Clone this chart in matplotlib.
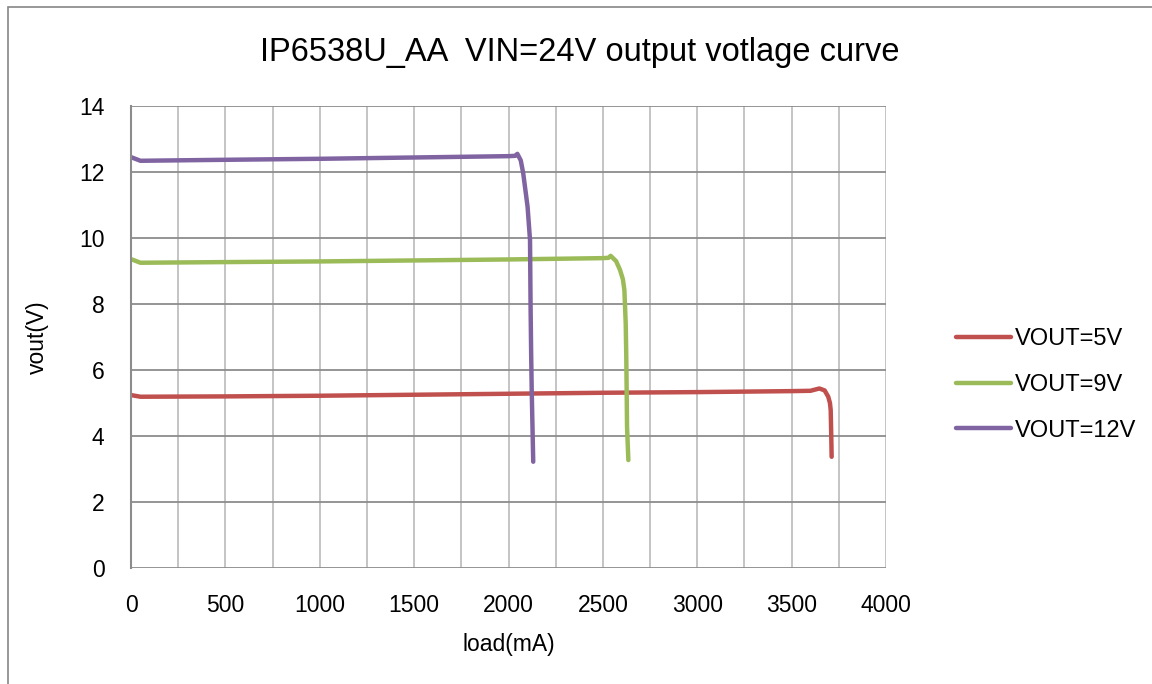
import matplotlib.pyplot as plt
from matplotlib.patches import Rectangle

plt.rcParams['font.family'] = ['Liberation Sans', 'DejaVu Sans']

# load (mA) / vout (V)
load_5v = [0, 50, 500, 1000, 1500, 2000, 2500, 3000, 3500, 3600, 3647, 3675, 3694, 3703, 3707, 3710, 3712]
vout_5v = [5.24, 5.19, 5.20, 5.22, 5.25, 5.28, 5.31, 5.33, 5.36, 5.37, 5.44, 5.38, 5.19, 5.00, 4.79, 4.00, 3.37]

load_9v = [0, 50, 500, 1000, 1500, 2000, 2500, 2530, 2541, 2570, 2591, 2606, 2614, 2621, 2624, 2626, 2628, 2635]
vout_9v = [9.36, 9.25, 9.27, 9.29, 9.32, 9.35, 9.39, 9.40, 9.46, 9.30, 9.03, 8.75, 8.42, 7.41, 6.40, 5.39, 4.28, 3.27]

load_12v = [0, 50, 500, 1000, 1500, 2000, 2035, 2047, 2065, 2078, 2101, 2114, 2117, 2120, 2123, 2127, 2131]
vout_12v = [12.45, 12.34, 12.37, 12.40, 12.44, 12.48, 12.49, 12.55, 12.35, 11.96, 10.95, 9.94, 7.92, 6.50, 5.39, 4.30, 3.22]

series = [
    ('VOUT=5V', load_5v, vout_5v, '#C0504D'),
    ('VOUT=9V', load_9v, vout_9v, '#9BBB59'),
    ('VOUT=12V', load_12v, vout_12v, '#8064A2'),
]

fig = plt.figure(figsize=(11.52, 6.84), dpi=100)
fig.patches.append(Rectangle((8 / 1152, -0.1), 1.2, 1 - 7 / 684 + 0.1, transform=fig.transFigure,
                             fill=False, edgecolor='#868686', linewidth=1.2))
ax = fig.add_axes([131 / 1152, 1 - 568 / 684, 755 / 1152, 462 / 684])

for label, x, y, color in series:
    ax.plot(x, y, color=color, linewidth=3.2, label=label, solid_capstyle='round', solid_joinstyle='round')

ax.set_xlim(0, 4000)
ax.set_ylim(0, 14)
ax.set_xticks(range(0, 4001, 500))
ax.set_xticks(range(250, 4000, 500), minor=True)
ax.set_yticks(range(0, 15, 2))
ax.grid(axis='x', which='both', color='#BFBFBF', linewidth=1.3)
ax.grid(axis='y', which='major', color='#8C8C8C', linewidth=1.3)
ax.set_axisbelow(True)
ax.tick_params(which='both', length=0, labelsize=16.5)
ax.tick_params(axis='x', pad=19)
ax.tick_params(axis='y', pad=19)
for side in ['top', 'right', 'bottom']:
    ax.spines[side].set_visible(False)
ax.spines['left'].set_color('#8C8C8C')
ax.spines['left'].set_linewidth(1.5)

ax.set_xlabel('load(mA)', fontsize=16.5, labelpad=11)
ax.set_ylabel('vout(V)', fontsize=16.5, labelpad=22)
fig.text(580 / 1152, 1 - 52 / 684, 'IP6538U_AA  VIN=24V output votlage curve',
         ha='center', va='center', fontsize=23.5)

fig.legend(loc='center left', bbox_to_anchor=(935 / 1152, 1 - 385 / 684), frameon=False,
           fontsize=17, handlelength=2.3, handletextpad=0.2, labelspacing=1.0)

plt.savefig('out.png')
